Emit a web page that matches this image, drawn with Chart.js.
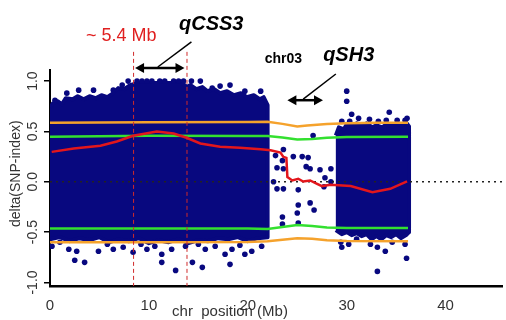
<!DOCTYPE html>
<html>
<head>
<meta charset="utf-8">
<script src="https://cdn.jsdelivr.net/npm/chart.js@4"></script>
<style>
  html, body { margin: 0; padding: 0; background: #fff; }
  #wrap { width: 506px; height: 320px; position: relative; }
</style>
</head>
<body>
<div id="wrap"><canvas id="snpChart"></canvas></div>
<script>
// --- data (x = Mb, y = delta SNP-index) ---
const xTicks = [0, 10, 20, 30, 40];
const yTicks = [-1.0, -0.5, 0.0, 0.5, 1.0];
const yTickLabels = ["-1.0", "-0.5", "0.0", "0.5", "1.0"];

// dense navy blocks: upper and lower edges
const block1Upper = [[0,0.74],[0.3,0.78],[0.8,0.8],[1.2,0.77],[1.6,0.83],[2.3,0.82],[2.8,0.85],[3.4,0.82],[4.0,0.85],
  [4.6,0.83],[5.2,0.86],[5.8,0.84],[6.4,0.88],[6.9,0.93],[7.5,0.92],[8.1,0.96],[8.8,0.98],[13.4,0.98],[13.8,0.94],
  [14.2,0.96],[14.8,0.92],[15.4,0.94],[15.9,0.9],[16.6,0.92],[17.2,0.88],[17.9,0.9],[18.6,0.86],[19.3,0.88],[19.9,0.84],
  [20.6,0.86],[21.2,0.82],[21.6,0.84],[22.0,0.76]];
const block1Lower = [[0,-0.57],[1,-0.55],[2,-0.59],[3,-0.56],[4,-0.58],[5,-0.55],[6,-0.6],[7,-0.57],[8,-0.59],[9,-0.56],
  [10,-0.61],[11,-0.58],[12,-0.6],[13,-0.57],[14,-0.61],[15,-0.58],[16,-0.59],[17,-0.56],[18,-0.57],[19,-0.55],
  [20,-0.59],[21,-0.56],[22.0,-0.55]];
const block3Upper = [[28.9,0.46],[29.2,0.54],[29.7,0.52],[30,0.57],[30.6,0.55],[31,0.58],[31.6,0.55],[32,0.58],
  [32.6,0.54],[33,0.56],[33.6,0.54],[34,0.57],[34.6,0.55],[35,0.58],[35.6,0.56],[36,0.59],[36.3,0.55]];
const block3Lower = [[28.9,-0.48],[29.5,-0.52],[30,-0.5],[30.5,-0.53],[31,-0.51],[31.5,-0.54],[32,-0.52],[32.5,-0.57],
  [33,-0.54],[33.5,-0.57],[34,-0.53],[34.5,-0.55],[35,-0.52],[35.5,-0.56],[36,-0.53],[36.3,-0.5]];

// single SNPs outside the dense blocks
const snpPoints = [
  [7.9,1.0],[8.8,1.0],[9.3,1.0],[9.8,1.0],[10.3,1.0],[11.1,1.0],[11.6,1.0],[12.5,1.0],[13.0,1.0],[13.5,1.0],[14.3,1.0],[15.2,1.0],
  [0.5,0.81],[1.7,0.88],[2.9,0.91],[4.4,0.91],[6.4,0.91],[7.3,0.96],[16.4,0.93],[17.2,0.95],[18.2,0.96],[19.7,0.9],[21.3,0.9],
  [0.2,-0.64],[1.0,-0.6],[1.9,-0.67],[2.7,-0.69],[2.5,-0.78],[3.5,-0.8],[4.9,-0.69],[5.8,-0.62],[6.4,-0.67],[7.4,-0.65],
  [8.4,-0.7],[9.2,-0.62],[9.8,-0.67],[10.6,-0.64],[11.3,-0.72],[11.3,-0.8],[12.3,-0.67],[12.7,-0.88],[13.7,-0.64],[14.4,-0.8],
  [15.0,-0.62],[15.4,-0.85],[15.7,-0.67],[16.7,-0.64],[17.7,-0.72],[18.2,-0.82],[18.4,-0.67],[19.7,-0.72],[19.2,-0.63],
  [20.4,-0.69],[21.4,-0.64],
  [22.8,0.26],[22.95,0.14],[23.5,0.21],[23.6,0.13],[23.6,0.32],[24.6,0.25],[25.5,0.25],[26.1,0.24],[25.9,0.15],[27.3,0.12],
  [28.4,0.13],[26.6,0.46],[22.6,0.0],[22.95,-0.07],[23.6,-0.07],[25.1,-0.08],[25.1,-0.23],[25.0,-0.31],[25.1,-0.41],
  [26.3,-0.21],[26.7,-0.28],[23.5,-0.35],[23.5,-0.42],[27.8,0.04],[27.7,-0.05],[28.4,0.0],[26.3,0.13],
  [30.0,0.9],[30.0,0.8],[30.5,0.67],[31.2,0.63],[34.3,0.69],[35.1,0.61],[35.9,0.61],[29.5,0.6],[30.3,0.6],[32.3,0.62],
  [33.2,0.6],[34.0,0.61],[36.1,0.63],
  [29.4,-0.6],[29.5,-0.65],[30.2,-0.62],[31.0,-0.57],[32.4,-0.62],[33.1,-0.65],[33.9,-0.69],[34.6,-0.6],[35.9,-0.62],
  [36.05,-0.76],[33.1,-0.89]
];

// threshold lines and sliding-window mean
const orangeUpper = [[0,0.587],[10,0.59],[20,0.593],[22,0.595],[23.5,0.575],[25,0.548],[26,0.56],[28,0.573],[30,0.58],[33,0.585],[36.2,0.587]];
const greenUpper = [[0,0.447],[10,0.457],[20,0.455],[22,0.455],[23.5,0.44],[25,0.42],[26.5,0.425],[28,0.437],[30,0.445],[36.2,0.447]];
const greenLower = [[0,-0.463],[10,-0.463],[20,-0.465],[22,-0.47],[23.5,-0.45],[25,-0.43],[26.5,-0.44],[28,-0.453],[30,-0.458],[36.2,-0.46]];
const orangeLower = [[0,-0.6],[10,-0.6],[20,-0.597],[22,-0.59],[23.5,-0.575],[25,-0.56],[26.5,-0.565],[28,-0.58],[30,-0.588],[36.2,-0.59]];
const meanLine = [[0.17,0.297],[2.4,0.33],[5.1,0.357],[6.75,0.4],[8.4,0.457],[10.8,0.5],[12.5,0.48],[13.8,0.437],[15.2,0.38],
  [17.2,0.347],[19.2,0.337],[21.3,0.323],[22.3,0.313],[23.3,0.29],[23.6,0.247],[23.9,0.237],[24.0,0.047],[24.5,0.013],
  [25.1,0.03],[25.6,0.003],[26.3,0.013],[27.0,-0.02],[27.5,-0.043],[28.35,-0.03],[30.4,-0.043],[32.6,-0.103],[34.4,-0.07],[36.1,0.003]];

// annotations
const regionMarks = [8.45, 13.85];
const xMin = 0, xMax = 45.7, yMin = -1.035, yMax = 1.11;

const pts = arr => arr.map(p => ({x: p[0], y: p[1]}));
const shape = (up, low) => pts(up.concat(low.slice().reverse()));

const navy = '#08087f';

const annotations = {
  id: 'annotations',
  afterDraw(chart) {
    const ctx = chart.ctx;
    const x = chart.scales.x, y = chart.scales.y;
    const px = v => x.getPixelForValue(v);
    const py = v => y.getPixelForValue(v);
    ctx.save();

    // y tick labels, rotated like R
    ctx.fillStyle = '#333';
    ctx.font = '14px "Liberation Sans", Arial, sans-serif';
    ctx.textAlign = 'center';
    ctx.textBaseline = 'middle';
    yTicks.forEach((v, i) => {
      ctx.save();
      ctx.translate(33, py(v));
      ctx.rotate(-Math.PI / 2);
      ctx.fillText(yTickLabels[i], 0, 0);
      ctx.restore();
    });
    // axis titles
    ctx.save();
    ctx.translate(16, py(0.08));
    ctx.rotate(-Math.PI / 2);
    ctx.fillText('delta(SNP-index)', 0, 0);
    ctx.restore();
    ctx.font = '15px "Liberation Sans", Arial, sans-serif';
    ctx.fillText('chr  position (Mb)', px(18.2), 312);

    // red dashed region lines
    ctx.strokeStyle = '#d02a2a';
    ctx.lineWidth = 1;
    ctx.setLineDash([4, 3]);
    regionMarks.forEach(m => {
      ctx.beginPath();
      ctx.moveTo(px(m), py(1.29));
      ctx.lineTo(px(m), py(yMin));
      ctx.stroke();
    });
    ctx.setLineDash([]);

    // double arrows and leader lines
    const dblArrow = (a, b, v) => {
      const x1 = px(a), x2 = px(b), yy = py(v), h = 9, w = 5;
      ctx.strokeStyle = '#000';
      ctx.fillStyle = '#000';
      ctx.lineWidth = 2.5;
      ctx.beginPath();
      ctx.moveTo(x1 + h - 1, yy);
      ctx.lineTo(x2 - h + 1, yy);
      ctx.stroke();
      ctx.beginPath();
      ctx.moveTo(x1, yy); ctx.lineTo(x1 + h, yy - w); ctx.lineTo(x1 + h, yy + w); ctx.closePath();
      ctx.fill();
      ctx.beginPath();
      ctx.moveTo(x2, yy); ctx.lineTo(x2 - h, yy - w); ctx.lineTo(x2 - h, yy + w); ctx.closePath();
      ctx.fill();
    };
    const leader = (a, b, c, d) => {
      ctx.strokeStyle = '#000';
      ctx.lineWidth = 1.5;
      ctx.beginPath();
      ctx.moveTo(px(a), py(b));
      ctx.lineTo(px(c), py(d));
      ctx.stroke();
    };
    dblArrow(8.6, 13.6, 1.13);
    leader(14.3, 1.39, 10.9, 1.14);
    dblArrow(24.0, 27.6, 0.81);
    leader(28.9, 1.07, 25.6, 0.82);

    // labels
    ctx.textAlign = 'center';
    ctx.textBaseline = 'middle';
    ctx.fillStyle = '#e02020';
    ctx.font = '18px "Liberation Sans", Arial, sans-serif';
    ctx.fillText('~ 5.4 Mb', px(7.2), py(1.45));
    ctx.fillStyle = '#000';
    ctx.font = 'italic bold 20px "Liberation Sans", Arial, sans-serif';
    ctx.fillText('qCSS3', px(16.3), py(1.56));
    ctx.fillText('qSH3', px(30.2), py(1.25));
    ctx.font = 'bold 14px "Liberation Sans", Arial, sans-serif';
    ctx.fillText('chr03', px(23.6), py(1.22));
    ctx.restore();
  }
};

new Chart(document.getElementById('snpChart'), {
  type: 'scatter',
  data: {
    datasets: [
      { data: pts(meanLine), showLine: true, borderColor: '#e3161c', borderWidth: 2.5, pointRadius: 0, order: 0 },
      { data: pts(orangeUpper), showLine: true, borderColor: '#f5a22c', borderWidth: 2.5, pointRadius: 0, order: 1 },
      { data: pts(orangeLower), showLine: true, borderColor: '#f5a22c', borderWidth: 2.5, pointRadius: 0, order: 1 },
      { data: pts(greenUpper), showLine: true, borderColor: '#33e030', borderWidth: 2.5, pointRadius: 0, order: 1 },
      { data: pts(greenLower), showLine: true, borderColor: '#33e030', borderWidth: 2.5, pointRadius: 0, order: 1 },
      { data: [{x: xMin, y: 0}, {x: xMax, y: 0}], showLine: true, borderColor: '#222', borderWidth: 1.5,
        borderDash: [2, 4], pointRadius: 0, order: 2 },
      { data: pts(snpPoints), pointRadius: 2.8, pointBackgroundColor: navy, pointBorderWidth: 0, order: 3 },
      { data: shape(block1Upper, block1Lower), showLine: true, fill: 'shape', backgroundColor: navy,
        borderColor: navy, borderWidth: 4, borderJoinStyle: 'round', tension: 0, pointRadius: 0, order: 4 },
      { data: shape(block3Upper, block3Lower), showLine: true, fill: 'shape', backgroundColor: navy,
        borderColor: navy, borderWidth: 4, borderJoinStyle: 'round', tension: 0, pointRadius: 0, order: 4 }
    ]
  },
  options: {
    responsive: true,
    maintainAspectRatio: false,
    animation: false,
    layout: { padding: { top: 70, right: 0, left: 0, bottom: 0 } },
    plugins: { legend: { display: false }, tooltip: { enabled: false } },
    scales: {
      x: {
        type: 'linear', min: xMin, max: xMax,
        afterFit: s => { s.height = 34; },
        afterBuildTicks: s => { s.ticks = xTicks.map(v => ({value: v})); },
        grid: { display: false },
        border: { display: true, color: '#000', width: 2.5 },
        ticks: { color: '#333', padding: 3, font: { size: 15, family: '"Liberation Sans", Arial, sans-serif' },
                 maxRotation: 0, autoSkip: false, includeBounds: false }
      },
      y: {
        type: 'linear', min: yMin, max: yMax,
        afterFit: s => { s.width = 50; },
        afterBuildTicks: s => { s.ticks = yTicks.map(v => ({value: v})); },
        grid: { drawOnChartArea: false, drawTicks: true, tickLength: 6, color: '#000', lineWidth: 1.5 },
        border: { display: true, color: '#000', width: 2 },
        ticks: { display: false }
      }
    }
  },
  plugins: [annotations]
});
</script>
</body>
</html>
